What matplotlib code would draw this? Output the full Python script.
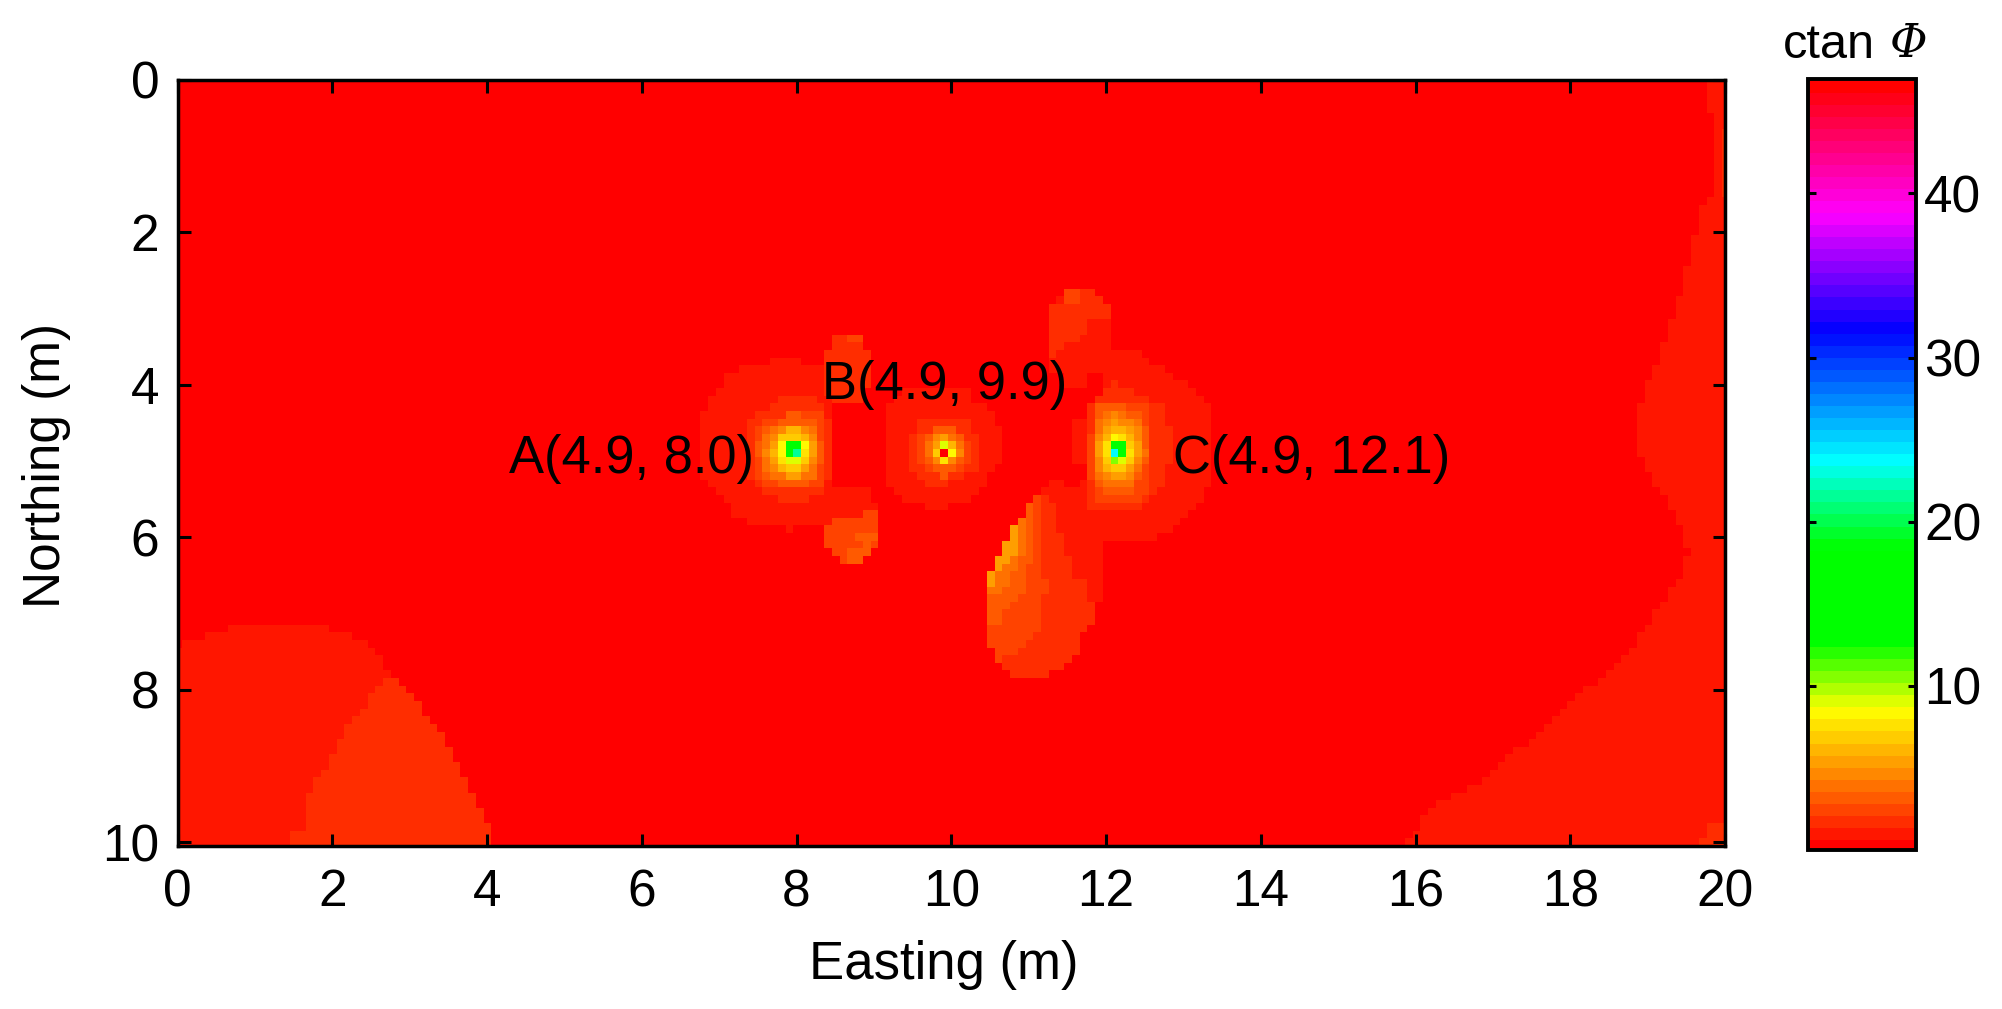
import matplotlib
matplotlib.use('Agg')
import matplotlib.pyplot as plt
import numpy as np
from matplotlib.colors import LinearSegmentedColormap
from matplotlib.path import Path

plt.rcParams['font.family'] = ['Liberation Sans', 'DejaVu Sans']

# colour scale, ctan phi values where the bar reaches each hue
VMAX = 47.0
N_BANDS = 64
scale_values = [0, 8.4, 12.6, 18.5, 23.8, 31.9, 39.1, 47.0]
scale_colors = ['#ff0000', '#ffff00', '#00ff00', '#00ff00', '#00ffff', '#0000ff', '#ff00ff', '#ff0000']

x_ticks = [0, 2, 4, 6, 8, 10, 12, 14, 16, 18, 20]
y_ticks = [0, 2, 4, 6, 8, 10]
cbar_ticks = [10, 20, 30, 40]

# outlines (easting, northing in m) of the areas above the background level,
# read off the picture
left_lobe = [(0, 7.42), (0.34, 7.31), (0.75, 7.16), (1.83, 7.16), (2.24, 7.31), (2.45, 7.42), (2.66, 7.62),
             (2.73, 7.83), (3.0, 8.05), (3.22, 8.35), (3.43, 8.62), (3.53, 8.81), (3.63, 9.03), (3.73, 9.25),
             (3.84, 9.46), (3.95, 9.62), (4.05, 9.83), (4.05, 10.1), (-0.1, 10.1), (-0.1, 7.42)]
left_peak = [(2.73, 7.83), (3.0, 8.05), (3.22, 8.35), (3.43, 8.62), (3.53, 8.81), (3.63, 9.03), (3.73, 9.25),
             (3.84, 9.46), (3.95, 9.62), (4.05, 9.83), (4.05, 10.1), (1.42, 10.1), (1.42, 9.94), (1.63, 9.81),
             (1.63, 9.51), (1.83, 9.14), (1.94, 8.94), (2.04, 8.72), (2.24, 8.42), (2.45, 8.16), (2.66, 7.83)]
right_lobe = [(15.8, 10.1), (16.22, 9.53), (16.85, 9.18), (17.26, 8.83), (18.04, 8.13), (18.64, 7.64), (19.18, 6.87),
              (19.42, 6.52), (19.52, 6.18), (19.31, 5.65), (19.09, 5.34), (18.94, 4.99), (18.85, 4.81), (18.85, 4.43),
              (18.94, 4.11), (19.05, 3.83), (19.2, 3.45), (19.31, 3.1), (19.42, 2.82), (19.52, 2.4), (19.63, 1.98),
              (19.72, 1.56), (19.83, 1.56), (19.83, 0.45), (19.72, 0.45), (19.72, -0.1), (20.1, -0.1), (20.1, 10.1)]
corner_top = [(19.93, 0.7), (20.1, 0.7), (20.1, 1.56), (19.93, 1.56)]
corner_bottom = [(19.63, 10.1), (19.72, 9.88), (19.83, 9.74), (20.1, 9.74), (20.1, 10.1)]

a_outer = [(6.71, 4.53), (6.81, 4.33), (6.92, 4.12), (7.02, 4.01), (7.12, 3.85), (7.42, 3.75), (7.85, 3.64),
           (8.05, 3.64), (8.05, 3.75), (8.31, 3.75), (8.41, 3.9), (8.41, 5.42), (8.51, 5.31), (8.92, 5.31),
           (8.92, 5.53), (9.03, 5.53), (9.03, 5.64), (8.82, 5.64), (8.82, 5.75), (8.51, 5.75), (8.41, 5.83),
           (7.95, 5.83), (7.95, 5.94), (7.85, 5.94), (7.85, 5.83), (7.42, 5.83), (7.22, 5.72), (7.12, 5.62),
           (7.02, 5.51), (6.92, 5.42), (6.81, 5.29), (6.71, 5.09)]
a_ring = [(7.74, 4.12), (8.21, 4.12), (8.21, 4.23), (8.30, 4.23), (8.30, 4.43), (8.41, 4.43), (8.41, 5.20),
          (8.30, 5.20), (8.30, 5.42), (8.16, 5.42), (8.16, 5.53), (7.74, 5.53), (7.74, 5.42), (7.54, 5.42),
          (7.54, 5.31), (7.43, 5.31), (7.43, 5.20), (7.33, 5.20), (7.33, 4.43), (7.43, 4.43), (7.43, 4.33),
          (7.64, 4.33), (7.64, 4.23), (7.74, 4.23)]
top_spot = [(8.31, 3.55), (8.41, 3.55), (8.41, 3.33), (8.82, 3.33), (8.82, 3.53), (8.92, 3.53), (8.92, 4.05),
            (8.82, 4.2), (8.41, 4.2), (8.31, 4.1)]
top_spot_cap = [(8.62, 3.33), (8.82, 3.33), (8.82, 3.45), (8.62, 3.45)]
low_spot = [(8.82, 5.64), (9.03, 5.64), (9.03, 6.09), (8.92, 6.2), (8.82, 6.31), (8.51, 6.31), (8.51, 6.2),
            (8.41, 6.2), (8.31, 6.09), (8.31, 5.96), (8.41, 5.855), (8.51, 5.75), (8.82, 5.75)]
low_spot_core = [(8.72, 5.95), (9.03, 5.95), (9.03, 6.05), (8.92, 6.05), (8.92, 6.2), (8.82, 6.31), (8.61, 6.31),
                 (8.61, 6.2), (8.82, 6.09), (8.72, 6.05)]

b_outer = [(9.43, 4.03), (10.19, 4.03), (10.31, 4.22), (10.52, 4.33), (10.61, 4.53), (10.61, 5.01), (10.52, 5.09),
           (10.40, 5.31), (10.31, 5.42), (10.2, 5.53), (9.94, 5.53), (9.94, 5.62), (9.64, 5.62), (9.64, 5.53),
           (9.34, 5.51), (9.23, 5.40), (9.13, 5.20), (9.13, 4.33), (9.23, 4.22), (9.34, 4.12)]
b_ring = [(9.54, 4.43), (10.21, 4.43), (10.21, 4.64), (10.32, 4.64), (10.32, 5.11), (10.21, 5.11), (10.21, 5.21),
          (9.95, 5.21), (9.95, 5.32), (9.65, 5.32), (9.65, 5.21), (9.54, 5.21), (9.54, 5.11), (9.44, 5.11),
          (9.44, 4.64), (9.54, 4.64)]

c_outer = [(11.23, 3.02), (11.44, 2.80), (11.89, 2.80), (12.0, 2.91), (12.0, 3.12), (12.1, 3.12), (12.1, 3.53),
           (12.41, 3.53), (12.41, 3.64), (12.71, 3.75), (12.82, 3.85), (13.03, 4.01), (13.23, 4.22), (13.33, 4.33),
           (13.33, 5.31), (13.23, 5.51), (13.03, 5.72), (12.82, 5.94), (12.41, 6.09), (11.90, 6.09), (11.90, 6.83),
           (11.74, 6.83), (11.64, 6.64), (11.53, 6.53), (11.53, 6.22), (11.44, 6.09), (11.44, 5.94), (11.32, 5.62),
           (11.23, 5.33), (11.35, 5.22), (11.45, 5.31), (11.66, 5.42), (11.75, 5.10), (11.6, 5.10), (11.55, 5.0),
           (11.55, 4.43), (11.75, 4.43), (11.8, 4.22), (11.9, 4.12), (12.0, 4.01), (12.0, 3.90), (11.74, 3.90),
           (11.74, 4.01), (11.46, 4.01), (11.44, 3.90), (11.23, 3.90)]
c_ring = [(12.01, 3.91), (12.11, 3.91), (12.11, 4.01), (12.32, 4.01), (12.32, 4.12), (12.53, 4.12), (12.53, 4.23),
          (12.73, 4.23), (12.73, 4.53), (12.83, 4.53), (12.83, 5.07), (12.73, 5.07), (12.73, 5.31), (12.63, 5.31),
          (12.63, 5.42), (12.42, 5.42), (12.42, 5.63), (11.80, 5.63), (11.80, 5.31), (11.76, 5.31), (11.76, 4.42),
          (11.80, 4.23), (11.91, 4.12), (12.01, 4.01)]
c_top = [(11.23, 3.02), (11.32, 2.91), (11.44, 2.91), (11.44, 2.80), (11.89, 2.80), (12.0, 2.91), (12.0, 3.12),
         (11.79, 3.12), (11.74, 3.33), (11.64, 3.33), (11.64, 3.44), (11.44, 3.44), (11.44, 3.53), (11.32, 3.53),
         (11.32, 3.64), (11.23, 3.64)]
c_top_cap = [(11.44, 2.80), (11.7, 2.80), (11.7, 2.91), (11.44, 2.91)]

drop_outer = [(11.23, 5.33), (11.13, 5.42), (11.02, 5.53), (10.93, 5.74), (10.82, 5.84), (10.72, 6.05), (10.62, 6.21),
              (10.52, 6.42), (10.41, 6.64), (10.41, 7.40), (10.52, 7.40), (10.52, 7.62), (10.62, 7.62), (10.62, 7.72),
              (10.72, 7.72), (10.72, 7.82), (11.23, 7.82), (11.23, 7.72), (11.44, 7.72), (11.44, 7.62), (11.53, 7.62),
              (11.53, 7.52), (11.64, 7.52), (11.64, 7.29), (11.74, 7.29), (11.80, 7.16), (11.80, 6.83), (11.90, 6.83),
              (11.90, 6.09), (11.44, 5.94)]
drop_mid = [(11.23, 5.42), (11.32, 5.62), (11.32, 5.94), (11.44, 5.94), (11.44, 6.22), (11.53, 6.22), (11.53, 6.53),
            (11.64, 6.53), (11.74, 6.64), (11.74, 6.83), (11.80, 6.83), (11.80, 7.16), (11.74, 7.29), (11.64, 7.29),
            (11.64, 7.52), (11.53, 7.52), (11.53, 7.62), (11.44, 7.62), (11.44, 7.72), (11.23, 7.72), (11.23, 7.82),
            (10.72, 7.82), (10.72, 7.72), (10.62, 7.72), (10.62, 7.62), (10.52, 7.62), (10.52, 7.40), (10.41, 7.40),
            (10.41, 6.64), (10.52, 6.42), (10.62, 6.21), (10.72, 6.05), (10.82, 5.84), (10.93, 5.74), (11.02, 5.53),
            (11.13, 5.42)]
drop_left = [(11.13, 5.42), (11.13, 6.53), (11.23, 6.53), (11.23, 6.74), (11.13, 6.74), (11.13, 7.29), (11.02, 7.29),
             (10.93, 7.40), (10.82, 7.52), (10.62, 7.62), (10.52, 7.62), (10.52, 7.40), (10.41, 7.40), (10.41, 6.64),
             (10.52, 6.42), (10.62, 6.21), (10.72, 6.05), (10.82, 5.84), (10.93, 5.74), (11.02, 5.53)]
drop_edge = [(11.02, 5.53), (11.02, 6.3), (10.93, 6.7), (10.82, 6.8), (10.72, 6.9), (10.62, 7.0), (10.62, 7.16),
             (10.41, 7.16), (10.41, 6.64), (10.52, 6.42), (10.62, 6.21), (10.72, 6.05), (10.82, 5.84), (10.93, 5.74)]
drop_bright = [(10.93, 5.74), (10.93, 6.2), (10.82, 6.4), (10.72, 6.6), (10.62, 6.7), (10.41, 6.8), (10.41, 6.64),
               (10.52, 6.42), (10.62, 6.21), (10.72, 6.05), (10.82, 5.84)]
drop_tip = [(10.82, 5.84), (10.82, 6.2), (10.72, 6.3), (10.62, 6.4), (10.52, 6.6), (10.41, 6.8), (10.41, 6.64),
            (10.52, 6.42), (10.62, 6.21), (10.72, 6.05)]

# (colour band, outline), painted in this order
regions = [(1, left_lobe), (2, left_peak), (1, right_lobe), (2, corner_top), (2, corner_bottom),
           (1, a_outer), (1, b_outer), (1, c_outer), (1, drop_outer),
           (2, a_ring), (2, b_ring), (2, c_ring), (2, top_spot), (2, c_top), (2, drop_mid),
           (3, top_spot_cap), (3, c_top_cap), (3, low_spot), (3, drop_left),
           (4, low_spot_core), (4, drop_edge), (5, drop_bright), (7, drop_tip)]

# cells around the three points, colour band per 0.1 m cell
# first column / first row index gives where each block sits in the grid
a_col, a_row = 75, 44
a_core = [[2, 2, 2, 2, 4, 4, 3, 3, 3],
          [2, 3, 3, 4, 4, 4, 4, 4, 3],
          [3, 4, 5, 6, 8, 8, 6, 5, 3],
          [3, 5, 6, 9, 9, 9, 8, 6, 3],
          [4, 5, 7, 11, 22, 22, 11, 7, 4],
          [4, 6, 8, 11, 22, 29, 10, 7, 4],
          [3, 5, 7, 10, 12, 12, 9, 6, 4],
          [3, 5, 6, 8, 9, 9, 7, 5, 3],
          [3, 4, 5, 5, 7, 7, 5, 5, 3],
          [2, 3, 3, 4, 4, 4, 4, 3, 3]]

b_col, b_row = 95, 45
b_core = [[1, 2, 2, 2, 2, 2, 2, 2],
          [1, 2, 2, 4, 4, 4, 2, 2],
          [2, 3, 4, 6, 7, 5, 4, 2],
          [2, 3, 5, 7, 12, 8, 5, 3],
          [2, 3, 5, 9, 0, 11, 6, 3],
          [2, 3, 4, 6, 10, 6, 4, 3],
          [2, 2, 3, 4, 4, 4, 3, 2],
          [1, 2, 2, 2, 4, 2, 2, 1]]

c_col, c_row = 118, 43
c_core = [[2, 4, 4, 4, 4, 3, 3, 3],
          [2, 4, 5, 6, 5, 4, 4, 3],
          [2, 5, 6, 7, 6, 6, 5, 3],
          [2, 5, 7, 8, 8, 7, 6, 4],
          [3, 6, 8, 11, 10, 8, 6, 4],
          [3, 7, 10, 22, 22, 9, 7, 4],
          [3, 7, 10, 32, 22, 10, 7, 5],
          [3, 6, 9, 14, 12, 9, 6, 4],
          [3, 6, 8, 9, 9, 7, 5, 3],
          [3, 5, 6, 7, 7, 6, 4, 3],
          [2, 4, 5, 5, 5, 5, 3, 3],
          [2, 3, 4, 4, 4, 4, 3, 3],
          [2, 3, 3, 3, 3, 3, 3, 2]]

labels = ['A(4.9, 8.0)', 'B(4.9, 9.9)', 'C(4.9, 12.1)']
label_east = [4.28, 8.33, 12.87]
label_north = [4.98, 4.0, 4.98]


def band_value(band):
    return (np.asarray(band) + 0.5) * VMAX / N_BANDS


# build the gridded field
east = np.arange(201) * 0.1
north = np.arange(101) * 0.1
ee, nn = np.meshgrid(east, north)
nodes = np.column_stack([ee.ravel(), nn.ravel()])
bands = np.zeros(ee.shape)
for band, outline in regions:
    inside = Path(outline).contains_points(nodes).reshape(ee.shape)
    bands[inside] = band
for core, col, row in [(a_core, a_col, a_row), (b_core, b_col, b_row), (c_core, c_col, c_row)]:
    core = np.array(core)
    bands[row:row + core.shape[0], col:col + core.shape[1]] = core
field = band_value(bands)

positions = [v / VMAX for v in scale_values]
cmap = LinearSegmentedColormap.from_list('ctan', list(zip(positions, scale_colors)), N=N_BANDS)

W, H = 2002, 1009
fig = plt.figure(figsize=(W / 100, H / 100), dpi=100)
ax = fig.add_axes([177.5 / W, 1 - 846 / H, (1725 - 177.5) / W, (846 - 79.5) / H])
cax = fig.add_axes([1808 / W, 1 - 850 / H, (1916 - 1808) / W, (850 - 78.5) / H])

im = ax.imshow(field, cmap=cmap, vmin=0, vmax=VMAX, interpolation='nearest', aspect='auto',
               extent=(-0.05, 20.05, 10.05, -0.05))
ax.set_xlim(0, 20)
ax.set_ylim(10.05, 0)
ax.set_xticks(x_ticks)
ax.set_yticks(y_ticks)
ax.tick_params(direction='in', length=9, width=2.2, top=True, right=True, labelsize=37)
ax.tick_params(axis='x', pad=16)
ax.tick_params(axis='y', pad=13)
for side in ax.spines.values():
    side.set_linewidth(2.5)

ax.set_xlabel('Easting (m)', fontsize=38)
ax.set_ylabel('Northing (m)', fontsize=37)
ax.xaxis.set_label_coords(0.495, -0.123)
ax.yaxis.set_label_coords(-0.0686, 0.497)

for text, e, n in zip(labels, label_east, label_north):
    ax.text(e, n, text, fontsize=37.8, color='black', ha='left', va='center')

cb = fig.colorbar(im, cax=cax)
cb.set_ticks(cbar_ticks)
cb.ax.tick_params(direction='in', length=5.5, width=2.2, left=True, right=True, labelsize=37, pad=6)
cb.outline.set_linewidth(2.8)
cb.solids.set_edgecolor('face')
fig.text(1783 / W, 1 - 45 / H, 'ctan', fontsize=35, ha='left', va='center')
fig.text(1928 / W, 1 - 44 / H, '\u03a6', fontsize=33, family='DejaVu Serif', style='italic', ha='right', va='center')

fig.savefig('out.png', dpi=100)
print('saved out.png')
